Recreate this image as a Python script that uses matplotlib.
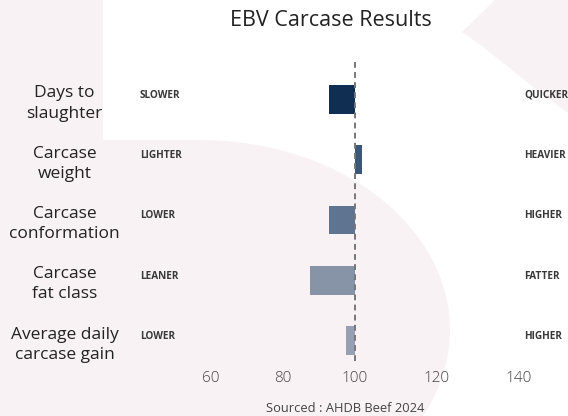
import numpy as np
import matplotlib
matplotlib.use("Agg")
import matplotlib.pyplot as plt
from matplotlib.patches import Rectangle, Ellipse, Polygon
from matplotlib.transforms import IdentityTransform, blended_transform_factory

# EBV carcase traits, index 100 = breed average
traits = ["Days to\nslaughter", "Carcase\nweight", "Carcase\nconformation",
          "Carcase\nfat class", "Average daily\ncarcase gain"]
ebv_index = [92.8, 101.6, 92.8, 87.5, 97.5]
low_words = ["SLOWER", "LIGHTER", "LOWER", "LEANER", "LOWER"]
high_words = ["QUICKER", "HEAVIER", "HIGHER", "FATTER", "HIGHER"]
x_ticks = [60, 80, 100, 120, 140]
baseline = 100
bar_colors = ["#102d52", "#3b5676", "#5f7490", "#8793a7", "#969fb4"]

plt.rcParams["font.family"] = ["Open Sans", "DejaVu Sans"]

W, H = 568, 416
fig = plt.figure(figsize=(W / 100, H / 100), dpi=100)
fig.patch.set_facecolor("white")

# decorative pale background shapes (pixel coords, origin bottom-left)
pink = "#f9f2f5"
bg = [
    Rectangle((0, 0), 103, H),
    Rectangle((0, 0), 200, H - 140),
    Ellipse((200, H - 330), 500, 380),
    Polygon([(495, H), (568, H), (568, H - 113), (537, H - 90),
             (507, H - 66), (482, H - 46), (462, H - 32)]),
]
for p in bg:
    p.set_transform(IdentityTransform())
    p.set_facecolor(pink)
    p.set_edgecolor("none")
    p.set_zorder(-5)
    fig.add_artist(p)

ax = fig.add_axes([130 / W, 55 / H, 438 / W, 299 / H])
ax.patch.set_alpha(0)


# below-average side is drawn a little tighter than the above-average side
def fwd(x):
    x = np.asarray(x, dtype=float)
    return np.where(x < baseline, (x - baseline) * 0.88, x - baseline)


def inv(y):
    y = np.asarray(y, dtype=float)
    return np.where(y < 0, y / 0.88 + baseline, y + baseline)


ax.set_xscale("function", functions=(fwd, inv))
ax.set_xlim(37.6, 152)

rows = np.arange(len(traits))
ax.barh(rows, np.array(ebv_index) - baseline, left=baseline, height=0.476,
        color=bar_colors, zorder=2)
ax.axvline(baseline, color="#777777", lw=1.4, ls=(0, (3, 2.2)), zorder=3)

ax.set_ylim(4.34, -0.62)
ax.set_yticks(rows)
ax.set_yticklabels(traits, fontsize=12.5, color="#222222", ha="center",
                   linespacing=1.35)
ax.tick_params(axis="y", length=0, pad=47)

ax.set_xticks(x_ticks)
ax.set_xticklabels([str(t) for t in x_ticks], fontsize=11, color="#444444",
                   fontweight="light")
ax.tick_params(axis="x", length=0, pad=7)
ax.xaxis.set_minor_locator(matplotlib.ticker.NullLocator())

for s in ax.spines.values():
    s.set_visible(False)

trans = blended_transform_factory(ax.transAxes, ax.transData)
for r, lo, hi in zip(rows, low_words, high_words):
    ax.text(10 / 438, r - 0.07, lo, transform=trans, fontsize=7.2,
            fontweight="bold", color="#383838", va="center", ha="left")
    ax.text(394 / 438, r - 0.07, hi, transform=trans, fontsize=7.2,
            fontweight="bold", color="#383838", va="center", ha="left",
            clip_on=False)

fig.text(331 / W, 1 - 20 / H, "EBV Carcase Results", fontsize=15.5,
         color="#222222", ha="center", va="center")
fig.text(345 / W, 1 - 408 / H, "Sourced : AHDB Beef 2024", fontsize=9.3,
         color="#444444", ha="center", va="center")

fig.savefig("out.png", dpi=100)
